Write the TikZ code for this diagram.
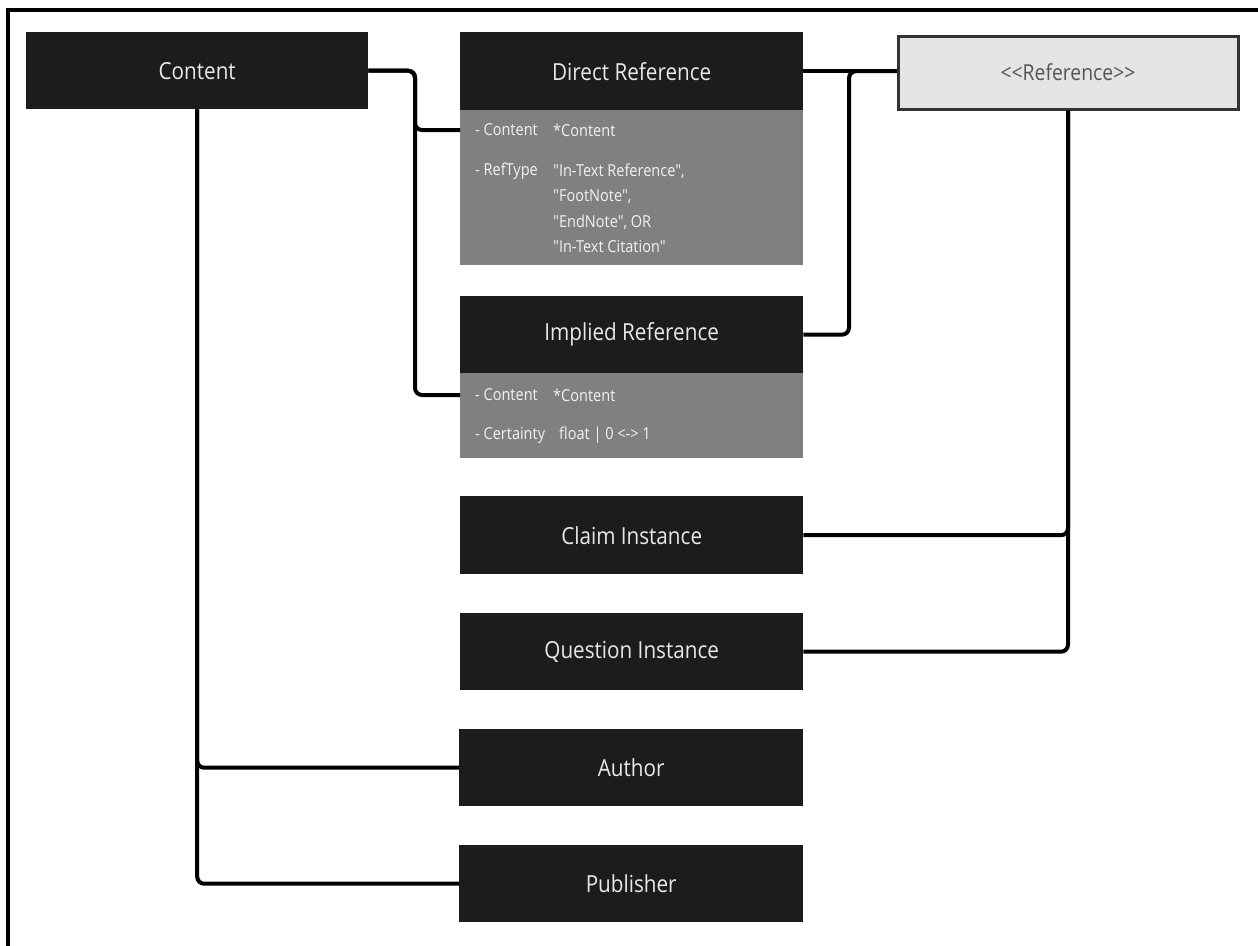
\documentclass[tikz,border=0pt]{standalone}
\usepackage{fontspec}
\setmainfont{Open Sans}[FakeStretch=0.88, Ligatures=TeXOff]
\begin{document}
\begin{tikzpicture}[x=1pt, y=-1pt,
  classhdr/.style={anchor=north west, fill=hdrfill, draw=none, text=hdrtext,
    inner sep=0pt, minimum width=343pt, minimum height=77pt,
    font=\fontsize{23.5}{28}\selectfont},
  attrbox/.style={anchor=north west, fill=attrfill, draw=none, inner sep=0pt,
    minimum width=343pt},
  attrtxt/.style={anchor=west, inner sep=0pt, text=attrtext,
    font=\fontsize{16.5}{20}\selectfont},
  iface/.style={anchor=north west, fill=ifacefill, draw=ifaceline, line width=3pt,
    text=ifacetext, inner sep=0pt, minimum width=340pt, minimum height=73pt,
    font=\fontsize{22}{26}\selectfont},
  conn/.style={draw=black, line width=4pt, rounded corners=7pt},
  frameline/.style={draw=black, line width=4pt}
]
\definecolor{hdrfill}{HTML}{1C1C1C}
\definecolor{hdrtext}{HTML}{E8E8E8}
\definecolor{attrfill}{HTML}{808080}
\definecolor{attrtext}{HTML}{F2F2F2}
\definecolor{ifacefill}{HTML}{E4E4E4}
\definecolor{ifaceline}{HTML}{333333}
\definecolor{ifacetext}{HTML}{555555}

\useasboundingbox (0,0) rectangle (1258,945);

% page frame (top and left edges)
\draw[frameline] (8,950) -- (8,10) -- (1262,10);

% classes
\node[classhdr, minimum width=342pt] (content) at (26,32) {Content};

\node[classhdr, minimum height=78pt] (dr) at (460,32) {Direct Reference};
\node[attrbox, minimum height=155pt] (dratt) at (460,110) {};
\node[attrtxt] (drl1) at (475,130) {- Content};
\node[attrtxt] (drv1) at (553,130) {*Content};
\node[attrtxt] (drl2) at (475,171) {- RefType};
\node[attrtxt] (drv2) at (553,171) {"In-Text Reference",};
\node[attrtxt] (drv3) at (553,197) {"FootNote",};
\node[attrtxt] (drv4) at (553,222) {"EndNote", OR};
\node[attrtxt] (drv5) at (553,247) {"In-Text Citation"};

\node[classhdr] (ir) at (460,296) {Implied Reference};
\node[attrbox, minimum height=85pt] (iratt) at (460,373) {};
\node[attrtxt] (irl1) at (475,395) {- Content};
\node[attrtxt] (irv1) at (553,395) {*Content};
\node[attrtxt] (irl2) at (475,435) {- Certainty};
\node[attrtxt] (irv2) at (559,435) {float | 0 <-> 1};

\node[classhdr, minimum height=78pt] (claim) at (460,496) {Claim Instance};
\node[classhdr] (question) at (460,613) {Question Instance};
\node[classhdr, minimum width=344pt] (author) at (459,729) {Author};
\node[classhdr, minimum width=344pt] (publisher) at (459,845) {Publisher};

\node[iface] (ref) at (896.5,34.5) {<<Reference>>};

% junction columns and attribute entry points
\coordinate (jA) at (415,0);
\coordinate (jB) at (849,0);
\coordinate (drin) at (dratt.west |- drl1.west);
\coordinate (irin) at (iratt.west |- irl1.west);

% connectors
\draw[conn] (content.east) -| (jA |- drin) -- (drin);
\draw[conn] (content.east) -| (jA |- irin) -- (irin);
\draw[conn] (dr.east) -- (dr.east -| ref.west);
\draw[conn] (ir.east) -| (jB |- dr.east) -- (dr.east -| ref.west);
\draw[conn] (ref.south) |- (claim.east);
\draw[conn] (ref.south) |- (question.east);
\draw[conn] (content.south) |- (author.west);
\draw[conn] (content.south) |- (publisher.west);
\end{tikzpicture}
\end{document}
